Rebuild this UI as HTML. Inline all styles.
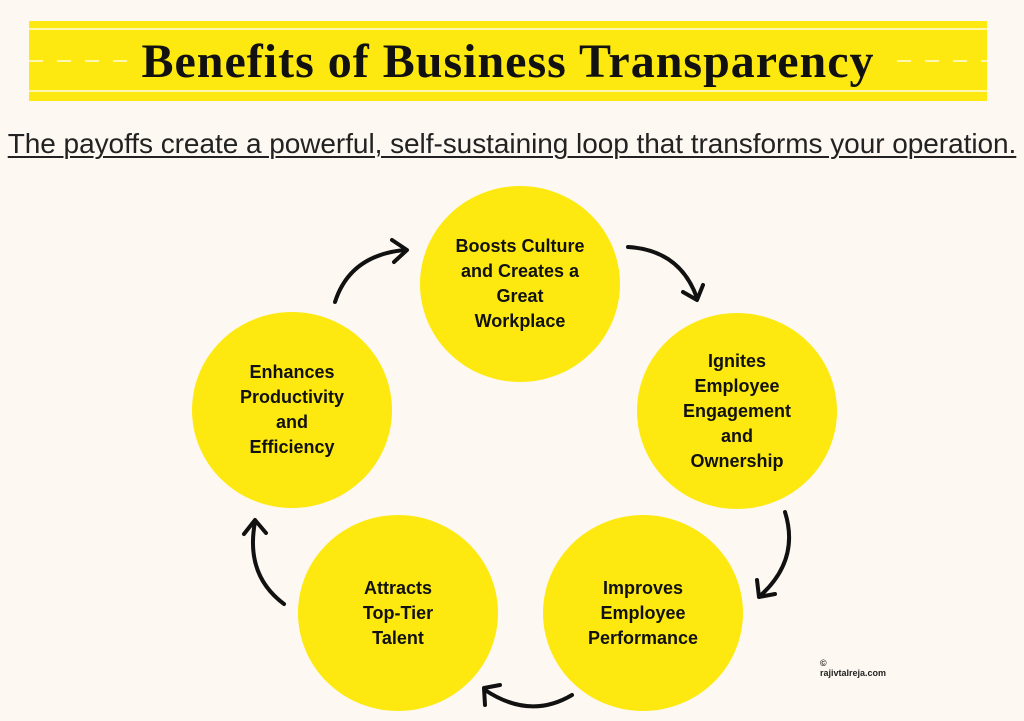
<!DOCTYPE html>
<html><head><meta charset="utf-8"><style>
body{margin:0;width:1024px;height:721px;background:#fdf8f1;position:relative;overflow:hidden;font-family:"Liberation Sans",sans-serif}
.ban{position:absolute;left:29px;top:21px;width:958px;height:80px;background:#fde910}
.l{position:absolute;left:0;width:958px;height:2px;background:#fff6b0}
.t{position:absolute;left:0;width:958px;top:13px;text-align:center;font-family:"Liberation Serif",serif;font-weight:bold;font-size:48px;color:#111;letter-spacing:1px}
.sub{position:absolute;left:0;width:1024px;top:128px;text-align:center;font-size:28px;color:#222;text-decoration:underline;text-decoration-thickness:2px;text-underline-offset:3px;letter-spacing:-0.05px;white-space:nowrap}
.c{position:absolute;width:200px;height:196px;border-radius:50%;background:#fde910;display:flex;align-items:center;justify-content:center;text-align:center;font-weight:bold;font-size:18px;line-height:25px;color:#111}
.wm{position:absolute;left:820px;top:658px;font-size:9px;font-weight:bold;color:#222}
</style></head><body>
<div class="ban">
<div class="l" style="top:7px"></div><div class="l" style="top:69px"></div>
<div style="position:absolute;left:0;top:39px;width:958px;height:2px;background:repeating-linear-gradient(90deg,#fff6b0 0 14px,transparent 14px 28px)"></div>
<div class="t"><span style="background:#fde910;padding:0 12px">Benefits of Business Transparency</span></div>
</div>
<div class="sub">The payoffs create a powerful, self-sustaining loop that transforms your operation.</div>
<div class="c" style="left:420px;top:186px">Boosts Culture<br>and Creates a<br>Great<br>Workplace</div>
<div class="c" style="left:637px;top:313px">Ignites<br>Employee<br>Engagement<br>and<br>Ownership</div>
<div class="c" style="left:543px;top:515px">Improves<br>Employee<br>Performance</div>
<div class="c" style="left:298px;top:515px">Attracts<br>Top-Tier<br>Talent</div>
<div class="c" style="left:192px;top:312px">Enhances<br>Productivity<br>and<br>Efficiency</div>
<svg width="1024" height="721" style="position:absolute;left:0;top:0" fill="none" stroke="#111" stroke-width="4" stroke-linecap="round" stroke-linejoin="round">
<path d="M335 302 Q350 255 405 250"/><path d="M392 240 L407 250 L394 262"/>
<path d="M628 247 Q680 250 697 298"/><path d="M683 292 L697 300 L703 285"/>
<path d="M785 512 Q800 560 760 596"/><path d="M757 580 L759 597 L775 594"/>
<path d="M572 695 Q530 720 485 690"/><path d="M485 705 L484 688 L500 685"/>
<path d="M284 604 Q245 575 255 522"/><path d="M244 534 L255 520 L266 533"/>
</svg>
<div class="wm">©<br>rajivtalreja.com</div>
</body></html>
